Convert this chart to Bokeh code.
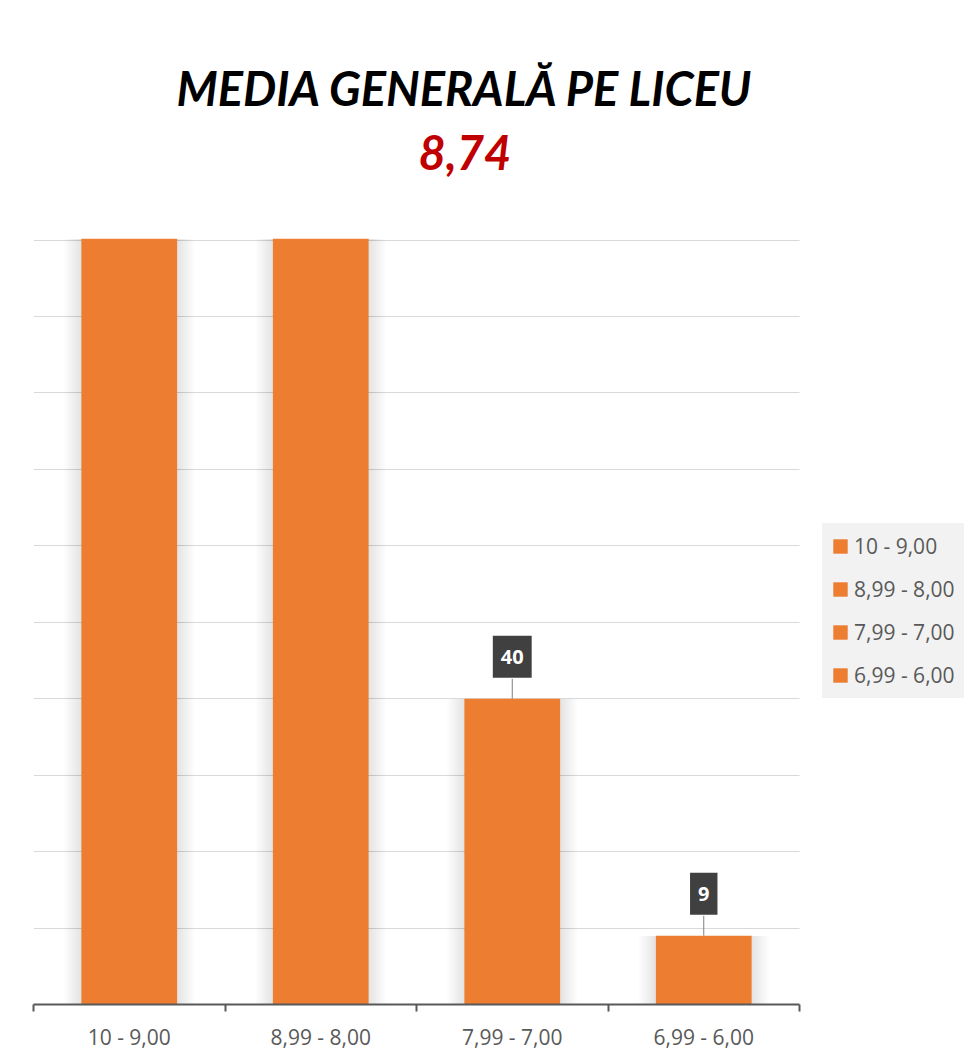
from bokeh.plotting import figure
from bokeh.models import (Range1d, FixedTicker, Label, Legend, LegendItem, Title,
                          ColumnDataSource)
from bokeh.embed import file_html
from bokeh.resources import INLINE

# ---- data ----
categories = ["10 - 9,00", "8,99 - 8,00", "7,99 - 7,00", "6,99 - 6,00"]
counts = [140, 160, 40, 9]          # first two bars exceed the axis maximum (clipped)
title_text = "MEDIA GENERALĂ PE LICEU"
average_text = "8,74"
y_max = 100
y_step = 10

ORANGE = "#ED7D31"
TXT = "#595959"
LEG_BG = "#f2f2f2"

n = len(categories)
xs = [i + 0.5 for i in range(n)]
src = ColumnDataSource(dict(x=xs, top=counts, cat=categories))

# plot area spans 766 px for the categories; extra room on the right holds the legend
x_end = n * 943 / 766
p = figure(width=976, height=1062, x_range=Range1d(0, x_end),
           y_range=Range1d(0, y_max + 0.2), output_backend="svg", toolbar_location=None,
           min_border_left=33, min_border_right=0, min_border_top=238,
           min_border_bottom=58)
p.outline_line_color = None
p.background_fill_color = "white"
p.border_fill_color = "white"

# soft shadow around bars
for k in range(1, 10):
    p.vbar(x="x", top="top", bottom=0, width=0.5 + 0.02 * k, source=src,
           fill_color="black", fill_alpha=0.013, line_color=None)

bars = p.vbar(x="x", top="top", bottom=0, width=0.5, source=src,
              fill_color=ORANGE, line_color=None)

# axes / grid
p.yaxis.visible = False
p.ygrid.ticker = FixedTicker(ticks=list(range(0, y_max + 1, y_step)))
p.ygrid.grid_line_color = "#d9d9d9"
p.ygrid.grid_line_width = 1
p.ygrid.cross_bounds = (0, n)
p.xgrid.visible = False

xa = p.xaxis[0]
xa.bounds = (0, n)
xa.ticker = FixedTicker(ticks=xs, minor_ticks=list(range(0, n + 1)))
xa.major_label_overrides = {x: c for x, c in zip(xs, categories)}
xa.major_tick_line_color = None
xa.major_tick_out = 0
xa.major_tick_in = 0
xa.minor_tick_line_color = TXT
xa.minor_tick_out = 7
xa.minor_tick_in = 0
xa.minor_tick_line_width = 2
xa.axis_line_color = TXT
xa.axis_line_width = 2
xa.major_label_standoff = 11
xa.major_label_text_font = "Open Sans"
xa.major_label_text_font_size = "21px"
xa.major_label_text_color = TXT

# data labels for bars inside the visible range
for x, v in zip(xs, counts):
    if v <= y_max:
        p.segment(x0=x, y0=v, x1=x, y1=v + 2.6, line_color="#7f7f7f", line_width=1)
        p.add_layout(Label(x=x, y=v, y_offset=21, text=str(v), text_align="center",
                           text_baseline="bottom", text_color="white",
                           text_font="Open Sans", text_font_style="bold",
                           text_font_size="20px", background_fill_color="#404040",
                           padding=dict(left=8, right=8, top=14, bottom=14)))

# legend
items = [LegendItem(label=c, renderers=[bars], index=i) for i, c in enumerate(categories)]
legend = Legend(items=items, location=(789, 306), background_fill_color=LEG_BG,
                background_fill_alpha=1, border_line_color=LEG_BG,
                border_line_width=1,
                label_text_font="Open Sans", label_text_font_size="21px",
                label_text_color=TXT, glyph_width=18, glyph_height=18,
                label_height=20, spacing=15, padding=8,
                margin=0, label_standoff=5)
p.add_layout(legend, "center")

# titles (a blank spacer title keeps them clear of the plot area)
p.add_layout(Title(text=" ", text_font_size="10px", standoff=51), "above")
p.add_layout(Title(text=average_text, text_font="Lato", text_font_style="bold italic",
                   text_font_size="47px", text_color="#C00000", align="left",
                   offset=385, standoff=10), "above")
p.add_layout(Title(text=title_text, text_font="Lato", text_font_style="bold italic",
                   text_font_size="47px", text_color="black", align="left",
                   offset=143, standoff=24), "above")

open("out.html", "w").write(file_html(p, INLINE))
